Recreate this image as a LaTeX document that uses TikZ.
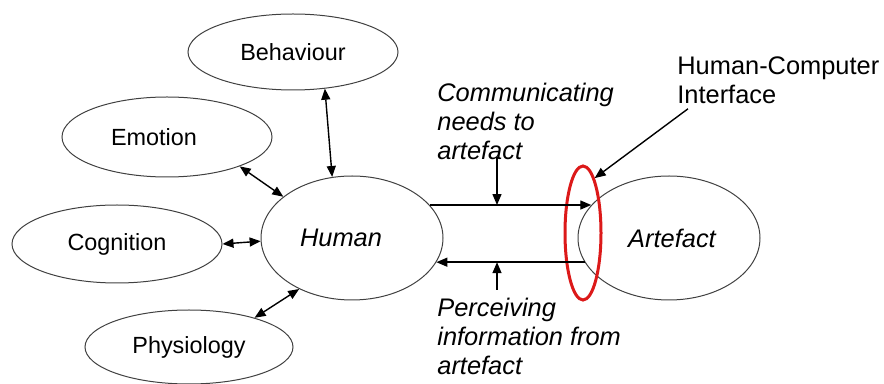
\documentclass[tikz,border=0pt]{standalone}
\usepackage{fontspec}
\setmainfont{Liberation Sans}
\usetikzlibrary{arrows.meta,shapes.geometric}
\begin{document}
\begin{tikzpicture}[x=0.5pt,y=-0.5pt,
	oval/.style={ellipse,draw=black!75,line width=0.5pt,inner sep=0pt,font=\fontsize{11.7}{14}\selectfont},
	note/.style={align=left,inner sep=0pt,font=\fontsize{12.7}{14.5}\selectfont},
	link/.style={{Triangle[length=5.5pt,width=4.5pt]}-{Triangle[length=5.5pt,width=4.5pt]},line width=0.7pt},
	flow/.style={-{Triangle[length=5.5pt,width=4.5pt]},line width=0.7pt}]
			\useasboundingbox (0,0) rectangle (884,384);
			% the human and what describes it
			\node[oval,minimum width=105pt,minimum height=38pt] (behaviour) at (293,52) {Behaviour};
			\node[oval,minimum width=105pt,minimum height=40pt] (emotion) at (167,137) {Emotion\kern13pt};
			\node[oval,minimum width=105pt,minimum height=39pt] (cognition) at (117,244) {Cognition};
			\node[oval,minimum width=104pt,minimum height=37pt] (physiology) at (189,347) {Physiology};
			\node[oval,minimum width=91pt,minimum height=62pt,font=\fontsize{12.7}{14}\selectfont\itshape] (human) at (352,238) {Human\kern11pt};
			\node[oval,minimum width=91pt,minimum height=62pt,font=\fontsize{12.7}{14}\selectfont\itshape] (artefact) at (669,238) {\kern3pt Artefact};
			% the interface
			\node[ellipse,draw={rgb,255:red,220;green,25;blue,25},line width=1.5pt,minimum width=18pt,minimum height=67pt,inner sep=0pt] (ring) at (583,233) {};

			\draw [link] (behaviour.-49)--(human.108);
			\draw [link] (emotion.-22)--(human.149);
			\draw [link] (cognition.east)--(human.182);
			\draw [link] (physiology.24)--(human.224);

			\draw [flow] (human.23)--(artefact.157);
			\draw [flow] (artefact.196)--(human.-16);

			\node[note,anchor=north west] (comm) at (437,83) {\itshape Communicating\\\itshape needs to\\\itshape artefact};
			\node[note,anchor=north west] (perc) at (437,298) {\itshape Perceiving\\\itshape information from\\\itshape artefact};
			\node[note,anchor=north west] (hci) at (677,56) {Human-Computer\\Interface};

			\coordinate (cin) at (497,157);
			\coordinate (pin) at (497,290);
			\draw [flow] (cin)--(cin |- human.23);
			\draw [flow] (pin)--(pin |- human.-16);
			\draw [flow] ([xshift=5.5pt,yshift=-2.5pt]hci.south west)--(ring.78);
\end{tikzpicture}
\end{document}
